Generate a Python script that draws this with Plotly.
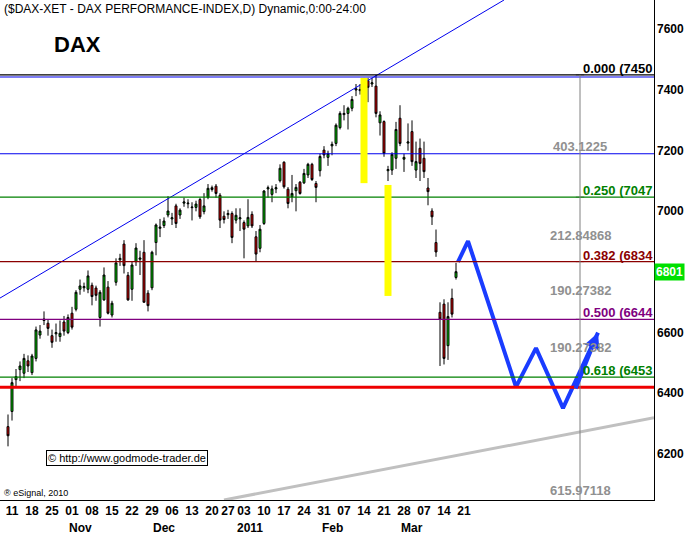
import plotly.graph_objects as go

opens = [6290,6340,6445,6478,6466,6507,6468,6515,6592,6640,6631,6590,6596,6587,6635,6600,6664,6677,6743,6748,6743,6756,6747,6650,6708,6750,6658,6766,6840,6892,6789,6743,6834,6842,6865,6730,6748,6897,6944,6953,6988,6975,7018,6988,7027,7025,7012,7013,7039,6999,7046,7072,7083,7053,6984,6989,6993,6971,6975,6963,6952,6990,6916,6878,6960,7074,7056,7074,7101,7162,7073,7048,7068,7096,7094,7120,7155,7092,7134,7202,7178,7216,7224,7276,7319,7323,7340,7400,7398,7405,7431,7420,7413,7292,7296,7134,7136,7175,7307,7172,7225,7263,7136,7208,7175,7077,7001,6897,6667,6694,6557,6713,6782]
highs = [6330,6450,6480,6505,6530,6525,6530,6620,6625,6670,6645,6610,6630,6640,6655,6660,6685,6740,6775,6765,6805,6765,6755,6740,6815,6770,6705,6845,6860,6905,6800,6835,6895,6870,6905,6740,6870,6960,6975,6980,7050,6995,7025,7010,7045,7040,7030,7035,7045,7060,7090,7085,7090,7060,7000,7005,7000,7010,7010,6970,7040,7000,6935,6955,7070,7085,7085,7090,7155,7165,7080,7120,7090,7100,7140,7160,7160,7100,7190,7215,7200,7230,7290,7330,7350,7345,7380,7420,7420,7440,7440,7440,7450,7330,7300,7150,7195,7295,7350,7190,7290,7300,7230,7240,7230,7110,7010,6940,6700,6710,6700,6745,6830]
lows = [6225,6310,6420,6440,6450,6470,6460,6505,6580,6625,6590,6550,6570,6570,6590,6595,6610,6670,6725,6735,6730,6690,6705,6620,6705,6660,6650,6755,6820,6795,6705,6705,6820,6790,6700,6670,6740,6855,6915,6945,6980,6955,6945,6975,7015,7010,6970,7000,6975,6990,7040,7065,7045,6945,6960,6975,6895,6960,6935,6845,6945,6945,6835,6865,6955,7045,7030,7060,7095,7075,7010,7030,7000,7055,7090,7110,7100,7030,7115,7175,7150,7185,7215,7270,7300,7270,7330,7380,7385,7395,7360,7410,7310,7250,7180,7100,7120,7140,7215,7130,7200,7150,7110,7100,7110,7020,6955,6850,6490,6495,6510,6650,6775]
closes = [6260,6435,6455,6490,6515,6490,6523,6609,6605,6645,6614,6568,6600,6598,6605,6650,6618,6733,6754,6752,6787,6719,6723,6733,6790,6664,6697,6830,6845,6821,6708,6823,6879,6846,6700,6689,6865,6955,6948,6968,7001,6979,6960,7004,7031,7027,7014,7024,6982,7018,7076,7078,7059,6971,6973,6993,6914,6987,6979,6941,6980,6952,6859,6941,7067,7078,7074,7078,7142,7081,7026,7059,7079,7059,7125,7155,7105,7079,7181,7186,7191,7221,7284,7323,7323,7340,7369,7404,7402,7420,7409,7424,7323,7318,7191,7138,7188,7270,7224,7178,7229,7164,7164,7158,7131,7065,6982,6866,6645,6515,6653,6661,6801]
days = list(range(-1, len(opens) - 1))

tick_pos = [0,5,10,15,20,25,30,35,40,45,50,54,58,63,68,73,78,83,88,93,98,103,108,113]
tick_labels = ["11","18","25","01","08","15","22","29","06","13","20","27","03","10","17","24","31","07","14","21","28","07","14","21"]
month_pos = [17, 38, 59.5, 80, 100]
month_labels = ["Nov","Dec","2011","Feb","Mar"]
price_ticks = [6200, 6400, 6600, 6800, 7000, 7200, 7400, 7600]

fib_levels = [7450, 7047, 6834, 6644, 6453]
fib_labels = ["0.000 (7450", "0.250 (7047", "0.382 (6834", "0.500 (6644", "0.618 (6453"]
fib_colors = ["#000000", "#008000", "#8b0000", "#800080", "#008000"]
fib_gaps = [403.1225, 212.84868, 190.27382, 190.27382, 615.97118]
gap_y = [7215, 6920, 6740, 6550, 6080]
other_levels = [7443, 7190]
red_level = 6420

zig_x = [111.5, 114, 126, 131, 137.75, 146.5]
zig_y = [6833, 6902, 6421, 6549, 6351, 6600]
trend_x = [-3, 123]
trend_y = [6714, 7697]
gray_x = [53, 160.5]
gray_y = [6048, 6319]
yellow1 = (88, 7440, 7093)
yellow2 = (94, 7087, 6721)
fib_x = 142

fig = go.Figure()
fig.add_trace(go.Candlestick(
    x=days, open=opens, high=highs, low=lows, close=closes,
    increasing=dict(line=dict(color="black", width=1), fillcolor="#00d000"),
    decreasing=dict(line=dict(color="black", width=1), fillcolor="#e00000"),
    whiskerwidth=0, showlegend=False, hoverinfo="skip"))

X0, X1 = -3, 160.5
shapes = []
for lv, c in zip(fib_levels, fib_colors):
    shapes.append(dict(type="line", x0=X0, x1=X1, y0=lv, y1=lv, line=dict(color=c, width=1.2)))
for lv in other_levels:
    shapes.append(dict(type="line", x0=X0, x1=X1, y0=lv, y1=lv, line=dict(color="#0000ee", width=1.2)))
shapes.append(dict(type="line", x0=X0, x1=X1, y0=red_level, y1=red_level, line=dict(color="#ee0000", width=3)))
shapes.append(dict(type="line", x0=fib_x, x1=fib_x, y0=7450, y1=6048, line=dict(color="#808080", width=1)))
for x, a, b in (yellow1, yellow2):
    shapes.append(dict(type="line", x0=x, x1=x, y0=a, y1=b, line=dict(color="#ffff00", width=7)))
fig.update_layout(shapes=shapes)

fig.add_trace(go.Scatter(x=trend_x, y=trend_y, mode="lines", line=dict(color="#0000ee", width=1), showlegend=False, hoverinfo="skip"))
fig.add_trace(go.Scatter(x=gray_x, y=gray_y, mode="lines", line=dict(color="#c0c0c0", width=3), showlegend=False, hoverinfo="skip"))
fig.add_trace(go.Scatter(x=zig_x, y=zig_y, mode="lines", line=dict(color="#1a3cff", width=4), showlegend=False, hoverinfo="skip"))
fig.add_trace(go.Scatter(x=[fib_x] * len(fib_levels), y=fib_levels, mode="markers",
                         marker=dict(symbol="line-ew", size=6, line=dict(color="#808080", width=1)), showlegend=False, hoverinfo="skip"))

ann = []
fnt = "Liberation Sans"
ann.append(dict(x=zig_x[-1], y=zig_y[-1], ax=zig_x[-2] + 3, ay=zig_y[-2] + 60, xref="x", yref="y", axref="x", ayref="y",
                text="", showarrow=True, arrowhead=2, arrowsize=0.8, arrowwidth=4, arrowcolor="#1a3cff"))
for lv, t, c in zip(fib_levels, fib_labels, fib_colors):
    ann.append(dict(x=142.3, y=lv, xref="x", yref="y", text="<b>" + t + "</b>", showarrow=False, xanchor="left", yanchor="bottom",
                    font=dict(family=fnt, size=13, color=c), yshift=-3))
for g, gy in zip(fib_gaps, gap_y):
    ann.append(dict(x=fib_x, y=gy, xref="x", yref="y", text="<b>" + str(g) + "</b>", showarrow=False,
                    font=dict(family=fnt, size=13, color="#909090")))
for v in price_ticks:
    ann.append(dict(x=1.0, y=v, xref="paper", yref="y", xanchor="left", xshift=1, text="<b>%d</b>" % v, showarrow=False,
                    font=dict(family=fnt, size=12, color="black")))
for p, t in zip(month_pos, month_labels):
    ann.append(dict(x=p, y=-0.038, xref="x", yref="paper", yanchor="top", text="<b>" + t + "</b>", showarrow=False,
                    font=dict(family=fnt, size=12, color="black")))
ann.append(dict(x=0.003, y=1, xref="paper", yref="paper", xanchor="left", yanchor="top",
                text="($DAX-XET - DAX PERFORMANCE-INDEX,D) Dynamic,0:00-24:00", showarrow=False,
                font=dict(family=fnt, size=12, color="black")))
ann.append(dict(x=0.08, y=0.91, xref="paper", yref="paper", xanchor="left", yanchor="middle",
                text="<b>DAX</b>", showarrow=False, font=dict(family=fnt, size=22, color="black")))
ann.append(dict(x=0.07, y=0.085, xref="paper", yref="paper", xanchor="left", yanchor="middle",
                text="© http://www.godmode-trader.de", showarrow=False, bordercolor="black", borderwidth=1,
                bgcolor="white", font=dict(family=fnt, size=11, color="black")))
ann.append(dict(x=0.003, y=0.0, xref="paper", yref="paper", xanchor="left", yanchor="bottom",
                text="® eSignal, 2010", showarrow=False, font=dict(family=fnt, size=9, color="black")))
ann.append(dict(x=1.0, y=closes[-1], xref="paper", yref="y", xanchor="left", text="<b>6801</b>", showarrow=False,
                bgcolor="#00e000", font=dict(family=fnt, size=12, color="white"), borderpad=1))
fig.update_layout(annotations=ann)

fig.update_layout(
    width=685, height=534, margin=dict(l=0, r=31, t=0, b=34),
    paper_bgcolor="white", plot_bgcolor="white",
    xaxis=dict(range=[X0, X1], tickvals=tick_pos, ticktext=["<b>%s</b>" % t for t in tick_labels],
               showgrid=False, zeroline=False, rangeslider=dict(visible=False), ticks="",
               showline=True, linecolor="black", tickfont=dict(family=fnt, size=12, color="black")),
    yaxis=dict(range=[6048, 7697], side="right", showticklabels=False,
               showgrid=False, zeroline=False, showline=True, linecolor="black", ticks=""),
)
fig.write_html("out.html", config={"displayModeBar": False}, post_script="document.body.style.margin='0';")
